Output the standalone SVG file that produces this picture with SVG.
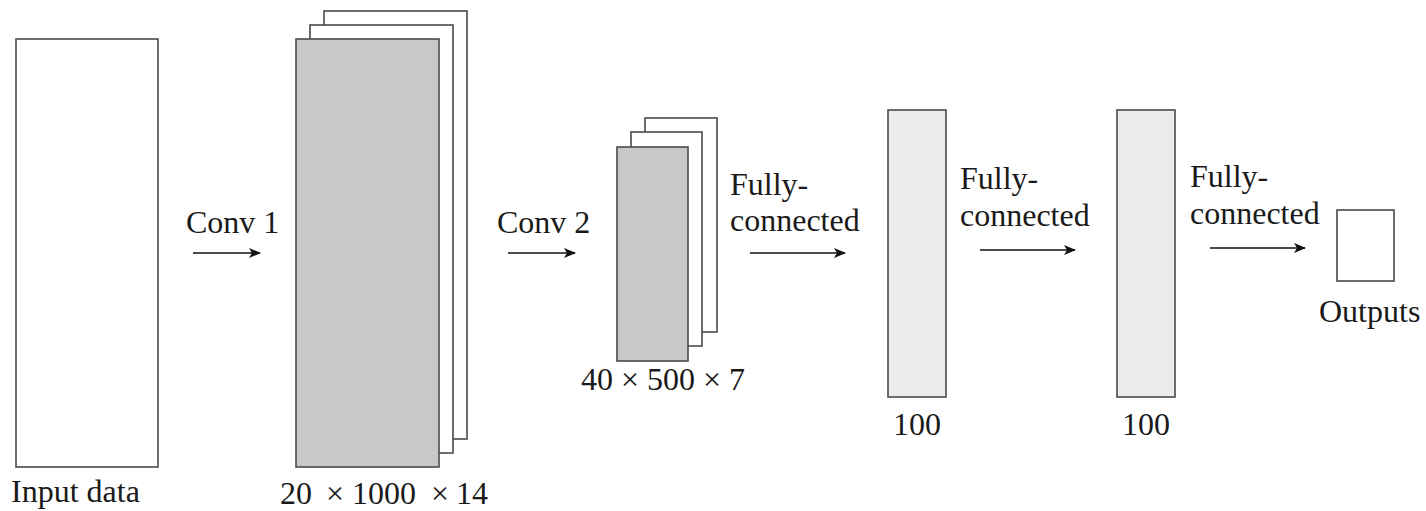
<svg xmlns="http://www.w3.org/2000/svg" width="1426" height="511" viewBox="0 0 1426 511">
<style>
.box{stroke:#4a4a4a;stroke-width:1.6}
.w{fill:#ffffff}
.g{fill:#c8c8c8}
.l{fill:#ececec}
.t{font-family:"Liberation Serif",serif;font-size:32px;fill:#1a1a1a}
.a{stroke:#111;stroke-width:1.6;fill:none;marker-end:url(#ah)}
</style>
<defs>
<marker id="ah" viewBox="0 0 12 10" refX="11" refY="5" markerWidth="12" markerHeight="10" markerUnits="userSpaceOnUse" orient="auto">
<path d="M0,0 L12,5 L0,10 L3,5 z" fill="#111"/>
</marker>
</defs>
<rect width="1426" height="511" fill="#ffffff"/>
<g id="input">
<rect class="box w" x="16" y="39" width="142" height="428"/>
<text class="t" x="11" y="502">Input data</text>
</g>
<g id="conv1-maps">
<rect class="box w" x="324" y="11" width="143" height="428"/>
<rect class="box w" x="310" y="25" width="143" height="428"/>
<rect class="box g" x="296" y="39" width="143" height="428"/>
<text class="t" y="504"><tspan x="280">20</tspan><tspan x="326">×</tspan><tspan x="352">1000</tspan><tspan x="431">×</tspan><tspan x="456">14</tspan></text>
</g>
<g id="conv2-maps">
<rect class="box w" x="645" y="118" width="72" height="214"/>
<rect class="box w" x="631" y="132" width="71" height="214"/>
<rect class="box g" x="617" y="147" width="71" height="214"/>
<text class="t" x="581" y="390">40 × 500 × 7</text>
</g>
<g id="fc1">
<rect class="box l" x="888" y="110" width="58" height="287"/>
<text class="t" x="893" y="435">100</text>
</g>
<g id="fc2">
<rect class="box l" x="1117" y="110" width="58" height="287"/>
<text class="t" x="1122" y="435">100</text>
</g>
<g id="outputs">
<rect class="box w" x="1337" y="210" width="57" height="71"/>
<text class="t" x="1319" y="322">Outputs</text>
</g>
<g id="connectors">
<line class="a" x1="193" y1="253" x2="260" y2="253"/>
<text class="t" x="186" y="233">Conv 1</text>
<line class="a" x1="508" y1="253" x2="575" y2="253"/>
<text class="t" x="497" y="233">Conv 2</text>
<line class="a" x1="750" y1="253" x2="845" y2="253"/>
<text class="t" x="730" y="195">Fully-</text>
<text class="t" x="730" y="231">connected</text>
<line class="a" x1="980" y1="250" x2="1075" y2="250"/>
<text class="t" x="960" y="189">Fully-</text>
<text class="t" x="960" y="226">connected</text>
<line class="a" x1="1210" y1="248" x2="1305" y2="248"/>
<text class="t" x="1190" y="187">Fully-</text>
<text class="t" x="1190" y="224">connected</text>
</g>
</svg>
